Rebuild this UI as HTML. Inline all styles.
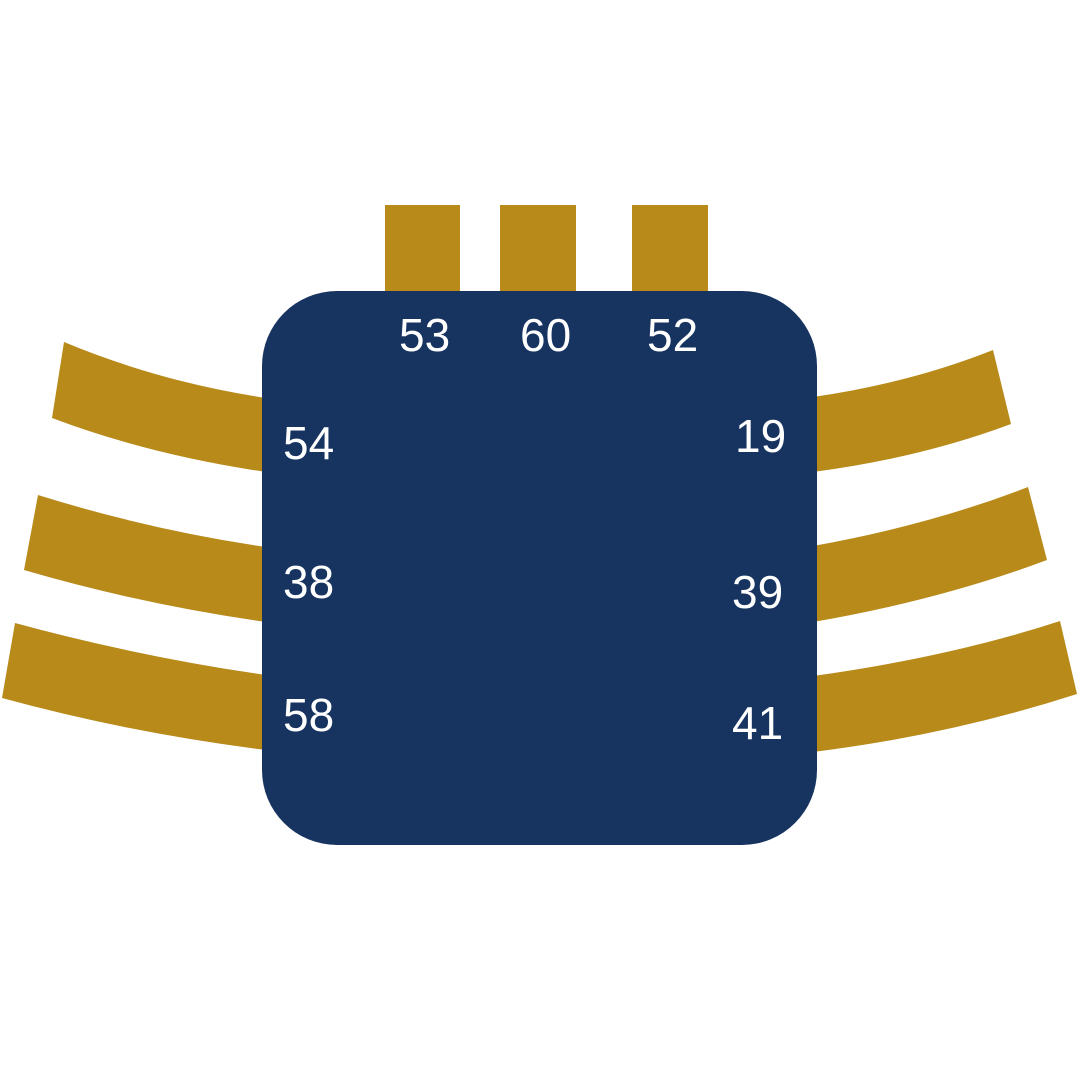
<!DOCTYPE html>
<html><head><meta charset="utf-8"><style>
html,body{margin:0;padding:0;background:#fff;}
svg{display:block}
text{font-family:"Liberation Sans",sans-serif;font-size:46px;fill:#fff;}
</style></head><body>
<svg width="1080" height="1080" viewBox="0 0 1080 1080" xmlns="http://www.w3.org/2000/svg">
<g fill="#b88a1a">
<rect x="385" y="205" width="75" height="90"/>
<rect x="500" y="205" width="76" height="90"/>
<rect x="632" y="205" width="76" height="90"/>
<path d="M64,342 Q160,382 266,398 L266,472 Q150,455 52,418 Z"/>
<path d="M38,495 Q150,530 266,547 L266,622 Q140,604 24,570 Z"/>
<path d="M15,623 Q140,657 266,675 L266,750 Q130,733 2,698 Z"/>
<path d="M813,397 Q910,383 993,350 L1011,424 Q920,458 813,472 Z"/>
<path d="M813,546 Q930,525 1028,487 L1047,560 Q940,600 813,622 Z"/>
<path d="M813,676 Q950,657 1060,621 L1077,694 Q950,735 813,752 Z"/>
</g>
<rect x="262" y="291" width="555" height="554" rx="75" ry="75" fill="#173461"/>
<text x="399" y="351">53</text>
<text x="520" y="351">60</text>
<text x="647" y="351">52</text>
<text x="283" y="459">54</text>
<text x="283" y="598">38</text>
<text x="283" y="731">58</text>
<text x="735" y="452">19</text>
<text x="732" y="608">39</text>
<text x="732" y="739">41</text>
</svg>
</body></html>
